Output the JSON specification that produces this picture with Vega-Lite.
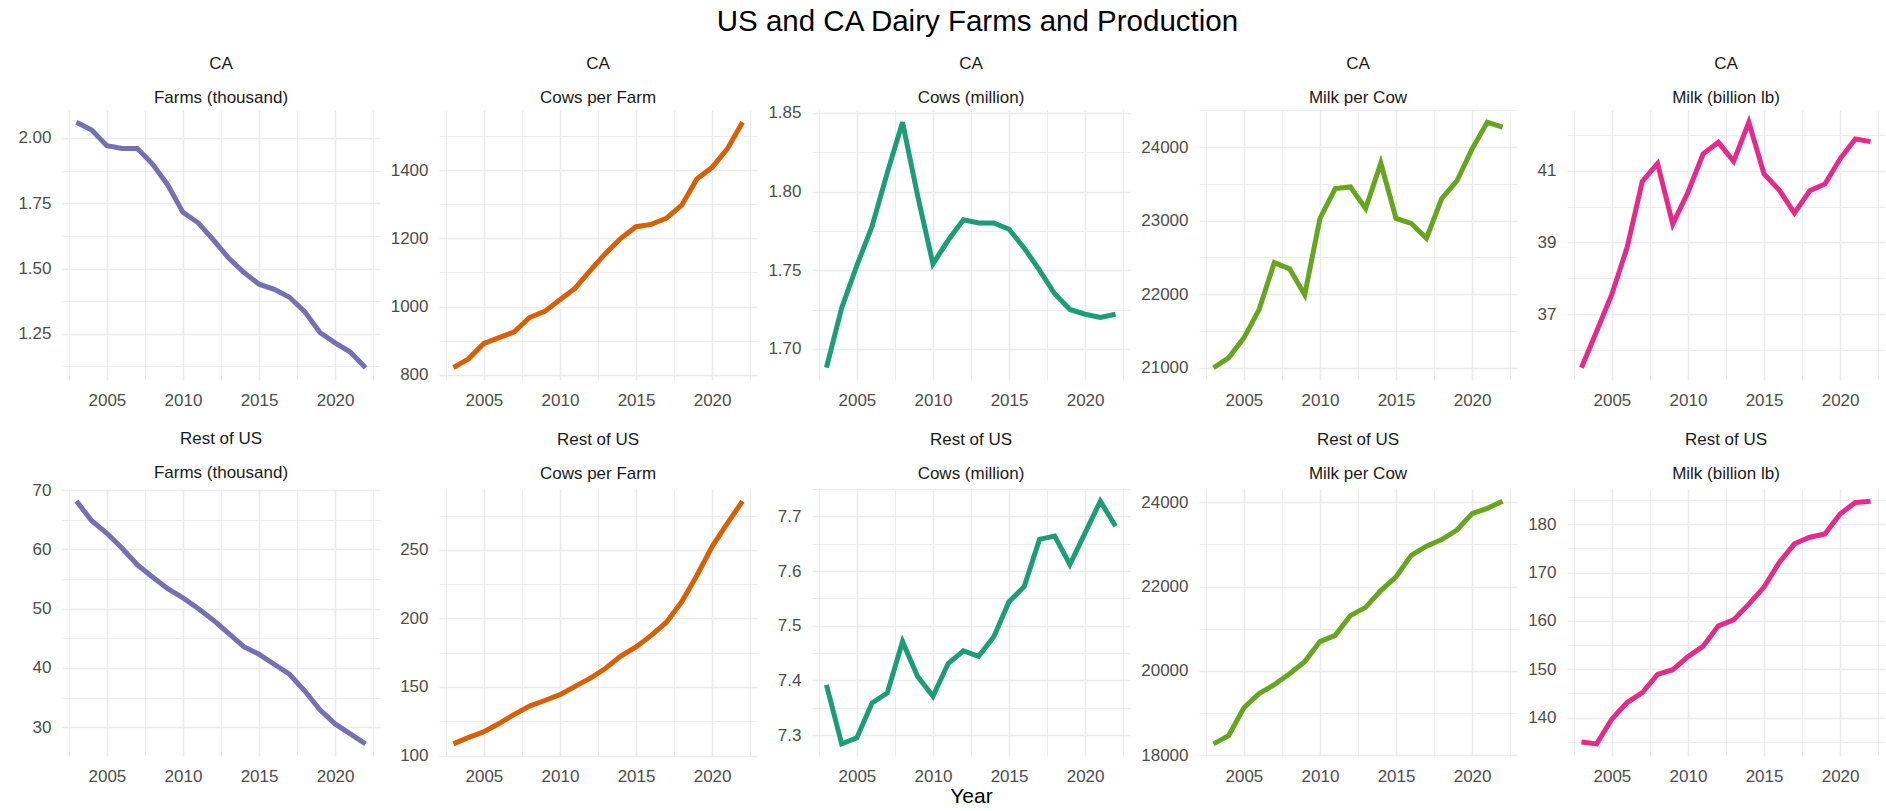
{
  "$schema": "https://vega.github.io/schema/vega-lite/v6.json",
  "padding": {"left": 17, "right": 0, "top": 7, "bottom": 0},
  "background": "white",
  "title": {"text": "US and CA Dairy Farms and Production", "fontSize": 29.5, "fontWeight": "normal", "color": "#000000", "anchor": "middle", "frame": "bounds", "lineHeight": 30, "offset": 17, "dx": 26},
  "datasets": {
    "ca_farms": [{"year":2003,"v":2.06},{"year":2004,"v":2.03},{"year":2005,"v":1.97},{"year":2006,"v":1.96},{"year":2007,"v":1.96},{"year":2008,"v":1.90},{"year":2009,"v":1.82},{"year":2010,"v":1.715},{"year":2011,"v":1.675},{"year":2012,"v":1.61},{"year":2013,"v":1.54},{"year":2014,"v":1.485},{"year":2015,"v":1.44},{"year":2016,"v":1.42},{"year":2017,"v":1.39},{"year":2018,"v":1.335},{"year":2019,"v":1.255},{"year":2020,"v":1.215},{"year":2021,"v":1.18},{"year":2022,"v":1.12}],
    "ca_cpf": [{"year":2003,"v":821},{"year":2004,"v":847},{"year":2005,"v":892},{"year":2006,"v":909},{"year":2007,"v":926},{"year":2008,"v":968},{"year":2009,"v":986},{"year":2010,"v":1020},{"year":2011,"v":1054},{"year":2012,"v":1106},{"year":2013,"v":1156},{"year":2014,"v":1200},{"year":2015,"v":1234},{"year":2016,"v":1241},{"year":2017,"v":1259},{"year":2018,"v":1297},{"year":2019,"v":1374},{"year":2020,"v":1408},{"year":2021,"v":1462},{"year":2022,"v":1540}],
    "ca_cows": [{"year":2003,"v":1.688},{"year":2004,"v":1.726},{"year":2005,"v":1.753},{"year":2006,"v":1.778},{"year":2007,"v":1.812},{"year":2008,"v":1.844},{"year":2009,"v":1.797},{"year":2010,"v":1.754},{"year":2011,"v":1.769},{"year":2012,"v":1.782},{"year":2013,"v":1.780},{"year":2014,"v":1.780},{"year":2015,"v":1.776},{"year":2016,"v":1.764},{"year":2017,"v":1.750},{"year":2018,"v":1.735},{"year":2019,"v":1.725},{"year":2020,"v":1.722},{"year":2021,"v":1.720},{"year":2022,"v":1.722}],
    "ca_mpc": [{"year":2003,"v":21000},{"year":2004,"v":21135},{"year":2005,"v":21406},{"year":2006,"v":21790},{"year":2007,"v":22430},{"year":2008,"v":22345},{"year":2009,"v":21993},{"year":2010,"v":23030},{"year":2011,"v":23436},{"year":2012,"v":23459},{"year":2013,"v":23165},{"year":2014,"v":23783},{"year":2015,"v":23030},{"year":2016,"v":22962},{"year":2017,"v":22760},{"year":2018,"v":23301},{"year":2019,"v":23540},{"year":2020,"v":23977},{"year":2021,"v":24338},{"year":2022,"v":24271}],
    "ca_milk": [{"year":2003,"v":35.51},{"year":2004,"v":36.53},{"year":2005,"v":37.56},{"year":2006,"v":38.86},{"year":2007,"v":40.70},{"year":2008,"v":41.20},{"year":2009,"v":39.51},{"year":2010,"v":40.40},{"year":2011,"v":41.47},{"year":2012,"v":41.79},{"year":2013,"v":41.26},{"year":2014,"v":42.35},{"year":2015,"v":40.91},{"year":2016,"v":40.46},{"year":2017,"v":39.82},{"year":2018,"v":40.44},{"year":2019,"v":40.63},{"year":2020,"v":41.33},{"year":2021,"v":41.88},{"year":2022,"v":41.81}],
    "r_farms": [{"year":2003,"v":68.15},{"year":2004,"v":64.85},{"year":2005,"v":62.73},{"year":2006,"v":60.21},{"year":2007,"v":57.41},{"year":2008,"v":55.34},{"year":2009,"v":53.38},{"year":2010,"v":51.82},{"year":2011,"v":50.03},{"year":2012,"v":48.07},{"year":2013,"v":45.83},{"year":2014,"v":43.59},{"year":2015,"v":42.31},{"year":2016,"v":40.63},{"year":2017,"v":38.95},{"year":2018,"v":36.15},{"year":2019,"v":32.96},{"year":2020,"v":30.56},{"year":2021,"v":28.88},{"year":2022,"v":27.20}],
    "r_cpf": [{"year":2003,"v":108.5},{"year":2004,"v":113.2},{"year":2005,"v":117.3},{"year":2006,"v":123.3},{"year":2007,"v":130.0},{"year":2008,"v":136.0},{"year":2009,"v":140.1},{"year":2010,"v":144.4},{"year":2011,"v":150.4},{"year":2012,"v":156.4},{"year":2013,"v":163.6},{"year":2014,"v":172.5},{"year":2015,"v":179.2},{"year":2016,"v":187.6},{"year":2017,"v":197.2},{"year":2018,"v":212.1},{"year":2019,"v":231.3},{"year":2020,"v":252.4},{"year":2021,"v":269.2},{"year":2022,"v":285.5}],
    "r_cows": [{"year":2003,"v":7.392},{"year":2004,"v":7.284},{"year":2005,"v":7.295},{"year":2006,"v":7.359},{"year":2007,"v":7.377},{"year":2008,"v":7.471},{"year":2009,"v":7.407},{"year":2010,"v":7.371},{"year":2011,"v":7.431},{"year":2012,"v":7.454},{"year":2013,"v":7.444},{"year":2014,"v":7.480},{"year":2015,"v":7.544},{"year":2016,"v":7.572},{"year":2017,"v":7.658},{"year":2018,"v":7.664},{"year":2019,"v":7.612},{"year":2020,"v":7.670},{"year":2021,"v":7.728},{"year":2022,"v":7.682}],
    "r_mpc": [{"year":2003,"v":18273},{"year":2004,"v":18468},{"year":2005,"v":19130},{"year":2006,"v":19465},{"year":2007,"v":19675},{"year":2008,"v":19933},{"year":2009,"v":20221},{"year":2010,"v":20696},{"year":2011,"v":20844},{"year":2012,"v":21312},{"year":2013,"v":21507},{"year":2014,"v":21904},{"year":2015,"v":22231},{"year":2016,"v":22738},{"year":2017,"v":22956},{"year":2018,"v":23112},{"year":2019,"v":23338},{"year":2020,"v":23727},{"year":2021,"v":23852},{"year":2022,"v":24023}],
    "r_milk": [{"year":2003,"v":134.98},{"year":2004,"v":134.58},{"year":2005,"v":139.73},{"year":2006,"v":143.12},{"year":2007,"v":145.15},{"year":2008,"v":148.95},{"year":2009,"v":149.90},{"year":2010,"v":152.61},{"year":2011,"v":154.78},{"year":2012,"v":158.98},{"year":2013,"v":160.20},{"year":2014,"v":163.46},{"year":2015,"v":166.98},{"year":2016,"v":172.07},{"year":2017,"v":175.93},{"year":2018,"v":177.29},{"year":2019,"v":177.97},{"year":2020,"v":182.10},{"year":2021,"v":184.47},{"year":2022,"v":184.75}]
  },
  "concat": [
    {
      "data": {"name": "ca_farms"}, "width": 318, "height": 270,
      "title": {"text": ["CA", "Farms (thousand)"]},
      "mark": {"type": "line", "color": "#7570b3", "strokeWidth": 5},
      "encoding": {
        "x": {"field": "year", "type": "quantitative", "scale": {"domain": [2002.05, 2022.95], "nice": false, "zero": false},
              "axis": {"title": null, "values": [2002.5,2005,2007.5,2010,2012.5,2015,2017.5,2020,2022.5], "format": "d", "labelExpr": "datum.value % 5 === 0 ? datum.label : ''", "labelFontSize": {"condition": {"test": "datum.value % 5 === 0", "value": 17}, "value": 0}, "gridWidth": {"condition": {"test": "datum.value % 5 === 0", "value": 1.6}, "value": 0.9}}},
        "y": {"field": "v", "type": "quantitative", "scale": {"domain": [1.073, 2.107], "nice": false, "zero": false},
              "axis": {"title": null, "values": [1.125,1.25,1.375,1.5,1.625,1.75,1.875,2], "format": ".2f", "minExtent": 44, "maxExtent": 44,
                       "labelExpr": "indexof([1.25,1.5,1.75,2], datum.value) >= 0 ? datum.label : ''",
                       "labelFontSize": {"condition": {"test": "indexof([1.25,1.5,1.75,2], datum.value) >= 0", "value": 17}, "value": 0},
                       "gridWidth": {"condition": {"test": "indexof([1.25,1.5,1.75,2], datum.value) >= 0", "value": 1.6}, "value": 0.9}}}
      }
    },
    {
      "data": {"name": "ca_cpf"}, "width": 318, "height": 270,
      "title": {"text": ["CA", "Cows per Farm"]},
      "mark": {"type": "line", "color": "#d95f02", "strokeWidth": 5},
      "encoding": {
        "x": {"field": "year", "type": "quantitative", "scale": {"domain": [2002.05, 2022.95], "nice": false, "zero": false},
              "axis": {"title": null, "values": [2002.5,2005,2007.5,2010,2012.5,2015,2017.5,2020,2022.5], "format": "d", "labelExpr": "datum.value % 5 === 0 ? datum.label : ''", "labelFontSize": {"condition": {"test": "datum.value % 5 === 0", "value": 17}, "value": 0}, "gridWidth": {"condition": {"test": "datum.value % 5 === 0", "value": 1.6}, "value": 0.9}}},
        "y": {"field": "v", "type": "quantitative", "scale": {"domain": [785, 1576], "nice": false, "zero": false},
              "axis": {"title": null, "values": [800,900,1000,1100,1200,1300,1400,1500], "format": "d", "minExtent": 49, "maxExtent": 49,
                       "labelExpr": "indexof([800,1000,1200,1400], datum.value) >= 0 ? datum.label : ''",
                       "labelFontSize": {"condition": {"test": "indexof([800,1000,1200,1400], datum.value) >= 0", "value": 17}, "value": 0},
                       "gridWidth": {"condition": {"test": "indexof([800,1000,1200,1400], datum.value) >= 0", "value": 1.6}, "value": 0.9}}}
      }
    },
    {
      "data": {"name": "ca_cows"}, "width": 318, "height": 270,
      "title": {"text": ["CA", "Cows (million)"], "offset": -2.7},
      "mark": {"type": "line", "color": "#1b9e77", "strokeWidth": 5},
      "encoding": {
        "x": {"field": "year", "type": "quantitative", "scale": {"domain": [2002.05, 2022.95], "nice": false, "zero": false},
              "axis": {"title": null, "values": [2002.5,2005,2007.5,2010,2012.5,2015,2017.5,2020,2022.5], "format": "d", "labelExpr": "datum.value % 5 === 0 ? datum.label : ''", "labelFontSize": {"condition": {"test": "datum.value % 5 === 0", "value": 17}, "value": 0}, "gridWidth": {"condition": {"test": "datum.value % 5 === 0", "value": 1.6}, "value": 0.9}}},
        "y": {"field": "v", "type": "quantitative", "scale": {"domain": [1.6802, 1.8518], "nice": false, "zero": false},
              "axis": {"title": null, "values": [1.7,1.725,1.75,1.775,1.8,1.825,1.85], "format": ".2f", "minExtent": 44, "maxExtent": 44,
                       "labelExpr": "indexof([1.7,1.75,1.8,1.85], datum.value) >= 0 ? datum.label : ''",
                       "labelFontSize": {"condition": {"test": "indexof([1.7,1.75,1.8,1.85], datum.value) >= 0", "value": 17}, "value": 0},
                       "gridWidth": {"condition": {"test": "indexof([1.7,1.75,1.8,1.85], datum.value) >= 0", "value": 1.6}, "value": 0.9}}}
      }
    },
    {
      "data": {"name": "ca_mpc"}, "width": 318, "height": 270,
      "title": {"text": ["CA", "Milk per Cow"]},
      "mark": {"type": "line", "color": "#66a61e", "strokeWidth": 5},
      "encoding": {
        "x": {"field": "year", "type": "quantitative", "scale": {"domain": [2002.05, 2022.95], "nice": false, "zero": false},
              "axis": {"title": null, "values": [2002.5,2005,2007.5,2010,2012.5,2015,2017.5,2020,2022.5], "format": "d", "labelExpr": "datum.value % 5 === 0 ? datum.label : ''", "labelFontSize": {"condition": {"test": "datum.value % 5 === 0", "value": 17}, "value": 0}, "gridWidth": {"condition": {"test": "datum.value % 5 === 0", "value": 1.6}, "value": 0.9}}},
        "y": {"field": "v", "type": "quantitative", "scale": {"domain": [20833, 24505], "nice": false, "zero": false},
              "axis": {"title": null, "values": [21000,21500,22000,22500,23000,23500,24000,24500], "format": "d", "minExtent": 58, "maxExtent": 58,
                       "labelExpr": "indexof([21000,22000,23000,24000], datum.value) >= 0 ? datum.label : ''",
                       "labelFontSize": {"condition": {"test": "indexof([21000,22000,23000,24000], datum.value) >= 0", "value": 17}, "value": 0},
                       "gridWidth": {"condition": {"test": "indexof([21000,22000,23000,24000], datum.value) >= 0", "value": 1.6}, "value": 0.9}}}
      }
    },
    {
      "data": {"name": "ca_milk"}, "width": 318, "height": 270,
      "title": {"text": ["CA", "Milk (billion lb)"]},
      "mark": {"type": "line", "color": "#e7298a", "strokeWidth": 5},
      "encoding": {
        "x": {"field": "year", "type": "quantitative", "scale": {"domain": [2002.05, 2022.95], "nice": false, "zero": false},
              "axis": {"title": null, "values": [2002.5,2005,2007.5,2010,2012.5,2015,2017.5,2020,2022.5], "format": "d", "labelExpr": "datum.value % 5 === 0 ? datum.label : ''", "labelFontSize": {"condition": {"test": "datum.value % 5 === 0", "value": 17}, "value": 0}, "gridWidth": {"condition": {"test": "datum.value % 5 === 0", "value": 1.6}, "value": 0.9}}},
        "y": {"field": "v", "type": "quantitative", "scale": {"domain": [35.17, 42.69], "nice": false, "zero": false},
              "axis": {"title": null, "values": [36,37,38,39,40,41,42], "format": "d", "minExtent": 40, "maxExtent": 40,
                       "labelExpr": "indexof([37,39,41], datum.value) >= 0 ? datum.label : ''",
                       "labelFontSize": {"condition": {"test": "indexof([37,39,41], datum.value) >= 0", "value": 17}, "value": 0},
                       "gridWidth": {"condition": {"test": "indexof([37,39,41], datum.value) >= 0", "value": 1.6}, "value": 0.9}}}
      }
    },
    {
      "data": {"name": "r_farms"}, "width": 318, "height": 267,
      "title": {"text": ["Rest of US", "Farms (thousand)"], "offset": -1.3},
      "mark": {"type": "line", "color": "#7570b3", "strokeWidth": 5},
      "encoding": {
        "x": {"field": "year", "type": "quantitative", "scale": {"domain": [2002.05, 2022.95], "nice": false, "zero": false},
              "axis": {"title": null, "values": [2002.5,2005,2007.5,2010,2012.5,2015,2017.5,2020,2022.5], "format": "d", "labelExpr": "datum.value % 5 === 0 ? datum.label : ''", "labelFontSize": {"condition": {"test": "datum.value % 5 === 0", "value": 17}, "value": 0}, "gridWidth": {"condition": {"test": "datum.value % 5 === 0", "value": 1.6}, "value": 0.9}}},
        "y": {"field": "v", "type": "quantitative", "scale": {"domain": [25.15, 70.2], "nice": false, "zero": false},
              "axis": {"title": null, "values": [25,30,35,40,45,50,55,60,65,70], "format": "d", "minExtent": 44, "maxExtent": 44,
                       "labelExpr": "indexof([30,40,50,60,70], datum.value) >= 0 ? datum.label : ''",
                       "labelFontSize": {"condition": {"test": "indexof([30,40,50,60,70], datum.value) >= 0", "value": 17}, "value": 0},
                       "gridWidth": {"condition": {"test": "indexof([30,40,50,60,70], datum.value) >= 0", "value": 1.6}, "value": 0.9}}}
      }
    },
    {
      "data": {"name": "r_cpf"}, "width": 318, "height": 267,
      "title": {"text": ["Rest of US", "Cows per Farm"], "offset": 6},
      "mark": {"type": "line", "color": "#d95f02", "strokeWidth": 5},
      "encoding": {
        "x": {"field": "year", "type": "quantitative", "scale": {"domain": [2002.05, 2022.95], "nice": false, "zero": false},
              "axis": {"title": null, "values": [2002.5,2005,2007.5,2010,2012.5,2015,2017.5,2020,2022.5], "format": "d", "labelExpr": "datum.value % 5 === 0 ? datum.label : ''", "labelFontSize": {"condition": {"test": "datum.value % 5 === 0", "value": 17}, "value": 0}, "gridWidth": {"condition": {"test": "datum.value % 5 === 0", "value": 1.6}, "value": 0.9}}},
        "y": {"field": "v", "type": "quantitative", "scale": {"domain": [99.65, 294.35], "nice": false, "zero": false},
              "axis": {"title": null, "values": [100,125,150,175,200,225,250,275], "format": "d", "minExtent": 49, "maxExtent": 49,
                       "labelExpr": "indexof([100,150,200,250], datum.value) >= 0 ? datum.label : ''",
                       "labelFontSize": {"condition": {"test": "indexof([100,150,200,250], datum.value) >= 0", "value": 17}, "value": 0},
                       "gridWidth": {"condition": {"test": "indexof([100,150,200,250], datum.value) >= 0", "value": 1.6}, "value": 0.9}}}
      }
    },
    {
      "data": {"name": "r_cows"}, "width": 318, "height": 267,
      "title": {"text": ["Rest of US", "Cows (million)"], "offset": 6},
      "mark": {"type": "line", "color": "#1b9e77", "strokeWidth": 5},
      "encoding": {
        "x": {"field": "year", "type": "quantitative", "scale": {"domain": [2002.05, 2022.95], "nice": false, "zero": false},
              "axis": {"title": "Year", "titleFontSize": 21, "titleFontWeight": "normal", "titleColor": "#000000", "titlePadding": 1, "values": [2002.5,2005,2007.5,2010,2012.5,2015,2017.5,2020,2022.5], "format": "d", "labelExpr": "datum.value % 5 === 0 ? datum.label : ''", "labelFontSize": {"condition": {"test": "datum.value % 5 === 0", "value": 17}, "value": 0}, "gridWidth": {"condition": {"test": "datum.value % 5 === 0", "value": 1.6}, "value": 0.9}}},
        "y": {"field": "v", "type": "quantitative", "scale": {"domain": [7.2618, 7.7502], "nice": false, "zero": false},
              "axis": {"title": null, "values": [7.25,7.3,7.35,7.4,7.45,7.5,7.55,7.6,7.65,7.7,7.75], "format": ".1f", "minExtent": 44, "maxExtent": 44,
                       "labelExpr": "indexof([7.3,7.4,7.5,7.6,7.7], datum.value) >= 0 ? datum.label : ''",
                       "labelFontSize": {"condition": {"test": "indexof([7.3,7.4,7.5,7.6,7.7], datum.value) >= 0", "value": 17}, "value": 0},
                       "gridWidth": {"condition": {"test": "indexof([7.3,7.4,7.5,7.6,7.7], datum.value) >= 0", "value": 1.6}, "value": 0.9}}}
      }
    },
    {
      "data": {"name": "r_mpc"}, "width": 318, "height": 267,
      "title": {"text": ["Rest of US", "Milk per Cow"], "offset": 6},
      "mark": {"type": "line", "color": "#66a61e", "strokeWidth": 5},
      "encoding": {
        "x": {"field": "year", "type": "quantitative", "scale": {"domain": [2002.05, 2022.95], "nice": false, "zero": false},
              "axis": {"title": null, "values": [2002.5,2005,2007.5,2010,2012.5,2015,2017.5,2020,2022.5], "format": "d", "labelExpr": "datum.value % 5 === 0 ? datum.label : ''", "labelFontSize": {"condition": {"test": "datum.value % 5 === 0", "value": 17}, "value": 0}, "gridWidth": {"condition": {"test": "datum.value % 5 === 0", "value": 1.6}, "value": 0.9}}},
        "y": {"field": "v", "type": "quantitative", "scale": {"domain": [17985.5, 24310.5], "nice": false, "zero": false},
              "axis": {"title": null, "values": [18000,19000,20000,21000,22000,23000,24000], "format": "d", "minExtent": 58, "maxExtent": 58,
                       "labelExpr": "indexof([18000,20000,22000,24000], datum.value) >= 0 ? datum.label : ''",
                       "labelFontSize": {"condition": {"test": "indexof([18000,20000,22000,24000], datum.value) >= 0", "value": 17}, "value": 0},
                       "gridWidth": {"condition": {"test": "indexof([18000,20000,22000,24000], datum.value) >= 0", "value": 1.6}, "value": 0.9}}}
      }
    },
    {
      "data": {"name": "r_milk"}, "width": 318, "height": 267,
      "title": {"text": ["Rest of US", "Milk (billion lb)"], "offset": 6},
      "mark": {"type": "line", "color": "#e7298a", "strokeWidth": 5},
      "encoding": {
        "x": {"field": "year", "type": "quantitative", "scale": {"domain": [2002.05, 2022.95], "nice": false, "zero": false},
              "axis": {"title": null, "values": [2002.5,2005,2007.5,2010,2012.5,2015,2017.5,2020,2022.5], "format": "d", "labelExpr": "datum.value % 5 === 0 ? datum.label : ''", "labelFontSize": {"condition": {"test": "datum.value % 5 === 0", "value": 17}, "value": 0}, "gridWidth": {"condition": {"test": "datum.value % 5 === 0", "value": 1.6}, "value": 0.9}}},
        "y": {"field": "v", "type": "quantitative", "scale": {"domain": [132.07, 187.26], "nice": false, "zero": false},
              "axis": {"title": null, "values": [135,140,145,150,155,160,165,170,175,180,185], "format": "d", "minExtent": 40, "maxExtent": 40,
                       "labelExpr": "indexof([140,150,160,170,180], datum.value) >= 0 ? datum.label : ''",
                       "labelFontSize": {"condition": {"test": "indexof([140,150,160,170,180], datum.value) >= 0", "value": 17}, "value": 0},
                       "gridWidth": {"condition": {"test": "indexof([140,150,160,170,180], datum.value) >= 0", "value": 1.6}, "value": 0.9}}}
      }
    }
  ],
  "columns": 5,
  "align": "each",
  "spacing": {"row": 22, "column": 10},
  "config": {
    "font": "Liberation Sans",
    "view": {"stroke": null},
    "title": {"fontSize": 17, "fontWeight": "normal", "color": "#1a1a1a", "lineHeight": 34, "offset": 3, "anchor": "middle", "frame": "group"},
    "axis": {"domain": false, "ticks": false, "tickSize": 0, "labelFontSize": 17, "labelColor": "#4d4d4d", "gridColor": "#ebebeb", "labelOverlap": false, "labelFlush": false, "tickCount": 50},
    "axisY": {"labelPadding": 11},
    "axisX": {"labelPadding": 12}
  }
}
